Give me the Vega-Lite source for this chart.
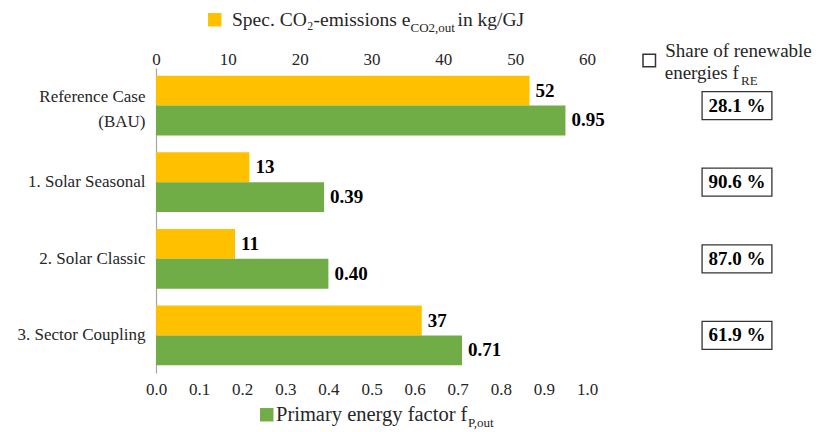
{
  "$schema": "https://vega.github.io/schema/vega-lite/v6.json",
  "width": 431,
  "height": 305,
  "autosize": {"type": "none"},
  "padding": {"left": 156, "top": 68, "right": 232, "bottom": 59},
  "datasets": {
    "bars": [
      {"case": "Reference Case (BAU)", "measure": "CO2", "value": 52},
      {"case": "Reference Case (BAU)", "measure": "PEF", "value": 0.95},
      {"case": "1. Solar Seasonal", "measure": "CO2", "value": 13},
      {"case": "1. Solar Seasonal", "measure": "PEF", "value": 0.39},
      {"case": "2. Solar Classic", "measure": "CO2", "value": 11},
      {"case": "2. Solar Classic", "measure": "PEF", "value": 0.40},
      {"case": "3. Sector Coupling", "measure": "CO2", "value": 37},
      {"case": "3. Sector Coupling", "measure": "PEF", "value": 0.71}
    ],
    "share": [
      {"case": "Reference Case (BAU)", "share": 28.1},
      {"case": "1. Solar Seasonal", "share": 90.6},
      {"case": "2. Solar Classic", "share": 87.0},
      {"case": "3. Sector Coupling", "share": 61.9}
    ]
  },
  "layer": [
    {
      "data": {"name": "bars"},
      "transform": [{"filter": "datum.measure == 'CO2'"}],
      "encoding": {
        "y": {
          "field": "case", "type": "nominal",
          "scale": {"domain": ["Reference Case (BAU)", "1. Solar Seasonal", "2. Solar Classic", "3. Sector Coupling"], "paddingInner": 0.22, "paddingOuter": 0.1},
          "axis": {
            "title": null, "domain": true, "domainColor": "#a6a6a6", "domainWidth": 1.2,
            "ticks": false, "tickSize": 0, "grid": false,
            "labelFont": "Liberation Serif", "labelFontSize": 17, "labelColor": "#262626", "labelPadding": 11,
            "labelLineHeight": 25,
            "labelBaseline": {"condition": {"test": "datum.value == 'Reference Case (BAU)'", "value": "bottom"}, "value": "middle"},
            "labelExpr": "datum.value == 'Reference Case (BAU)' ? ['Reference Case', '(BAU)'] : datum.value"
          }
        },
        "yOffset": {"field": "measure", "type": "nominal", "scale": {"domain": ["CO2", "PEF"], "paddingInner": 0, "paddingOuter": 0}},
        "x": {
          "field": "value", "type": "quantitative",
          "scale": {"domain": [0, 60], "nice": false},
          "axis": {
            "orient": "top", "values": [0, 10, 20, 30, 40, 50, 60], "title": null,
            "domain": false, "ticks": false, "tickSize": 0, "grid": false,
            "labelFont": "Liberation Serif", "labelFontSize": 17, "labelColor": "#262626",
            "labelBaseline": "alphabetic", "labelPadding": 4, "labelFlush": false, "labelOverlap": false
          }
        }
      },
      "layer": [
        {
          "mark": {"type": "bar"},
          "encoding": {
            "color": {
              "datum": "Spec. CO₂-emissions e", "type": "nominal",
              "scale": {"range": ["#FFC000"]},
              "legend": {"orient": "none", "legendX": 49, "legendY": -58, "title": null, "padding": 0,
                "symbolType": "square", "symbolSize": 180, "symbolStrokeWidth": 0, "labelOffset": 7.5,
                "labelFont": "Liberation Serif", "labelFontSize": 19.5, "labelColor": "#262626", "labelLimit": 0}
            }
          }
        },
        {
          "mark": {"type": "text", "align": "left", "baseline": "middle", "dx": 6, "font": "Liberation Serif", "fontSize": 19, "fontWeight": "bold"},
          "encoding": {
            "text": {"field": "value", "type": "quantitative", "format": "d"},
            "color": {
              "datum": "CO2,out", "type": "nominal",
              "scale": {"range": ["#000000"]},
              "legend": {"orient": "none", "legendX": 241.5, "legendY": -47, "title": null, "padding": 0,
                "symbolSize": 0, "symbolOpacity": 0, "symbolStrokeWidth": 0, "labelOffset": 0,
                "labelFont": "Liberation Serif", "labelFontSize": 13, "labelColor": "#262626", "labelLimit": 0}
            }
          }
        }
      ],
      "resolve": {"scale": {"color": "independent"}, "legend": {"color": "independent"}}
    },
    {
      "data": {"name": "bars"},
      "transform": [{"filter": "datum.measure == 'PEF'"}],
      "encoding": {
        "y": {"field": "case", "type": "nominal"},
        "yOffset": {"field": "measure", "type": "nominal"},
        "x": {
          "field": "value", "type": "quantitative",
          "scale": {"domain": [0, 1], "nice": false},
          "axis": {
            "orient": "bottom", "values": [0, 0.1, 0.2, 0.3, 0.4, 0.5, 0.6, 0.7, 0.8, 0.9, 1.0], "format": ".1f", "title": null,
            "domain": false, "ticks": false, "tickSize": 0, "grid": false,
            "labelFont": "Liberation Serif", "labelFontSize": 17, "labelColor": "#262626",
            "labelBaseline": "alphabetic", "labelPadding": 21, "labelFlush": false, "labelOverlap": false
          }
        }
      },
      "layer": [
        {
          "mark": {"type": "bar"},
          "encoding": {
            "color": {
              "datum": "Primary energy factor f", "type": "nominal",
              "scale": {"range": ["#70AD47"]},
              "legend": {"orient": "none", "legendX": 100.5, "legendY": 336.5, "title": null, "padding": 0,
                "symbolType": "square", "symbolSize": 180, "symbolStrokeWidth": 0, "labelOffset": -1,
                "labelFont": "Liberation Serif", "labelFontSize": 20.5, "labelColor": "#262626", "labelLimit": 0}
            }
          }
        },
        {
          "mark": {"type": "text", "align": "left", "baseline": "middle", "dx": 6, "font": "Liberation Serif", "fontSize": 19, "fontWeight": "bold"},
          "encoding": {
            "text": {"field": "value", "type": "quantitative", "format": ".2f"},
            "color": {
              "datum": "P,out", "type": "nominal",
              "scale": {"range": ["#000000"]},
              "legend": {"orient": "none", "legendX": 299, "legendY": 348, "title": null, "padding": 0,
                "symbolSize": 0, "symbolOpacity": 0, "symbolStrokeWidth": 0, "labelOffset": 0,
                "labelFont": "Liberation Serif", "labelFontSize": 13, "labelColor": "#262626", "labelLimit": 0}
            }
          }
        }
      ],
      "resolve": {"scale": {"color": "independent"}, "legend": {"color": "independent"}}
    },
    {
      "data": {"name": "share"},
      "transform": [{"calculate": "format(datum.share, '.1f') + ' %'", "as": "label"}],
      "encoding": {
        "y": {"field": "case", "type": "nominal"}
      },
      "layer": [
        {
          "mark": {"type": "bar", "height": 28, "strokeWidth": 1.3},
          "encoding": {
            "x": {"datum": 1.267, "type": "quantitative", "scale": {"domain": [0, 1], "nice": false}, "axis": null},
            "x2": {"datum": 1.429},
            "color": {
              "datum": "in kg/GJ", "type": "nominal",
              "scale": {"range": ["#ffffff"]},
              "legend": {"orient": "none", "legendX": 282, "legendY": -58, "title": null, "padding": 0,
                "symbolSize": 0, "symbolOpacity": 0, "symbolStrokeWidth": 0, "labelOffset": 0,
                "labelFont": "Liberation Serif", "labelFontSize": 19.5, "labelColor": "#262626", "labelLimit": 0}
            },
            "stroke": {
              "datum": "Share of renewable", "type": "nominal",
              "scale": {"range": ["#333333"]},
              "legend": {"orient": "none", "legendX": 483.75, "legendY": -17, "title": null, "padding": 0,
                "symbolType": "square", "symbolSize": 156, "labelOffset": 6.4,
                "labelFont": "Liberation Serif", "labelFontSize": 19, "labelColor": "#262626", "labelLimit": 0,
                "labelBaseline": "bottom",
                "encode": {
                  "symbols": {"update": {"fill": {"value": "#ffffff"}, "stroke": {"value": "#404040"}, "strokeWidth": {"value": 1}}}
                }
              }
            },
            "strokeDash": {
              "datum": "energies f", "type": "nominal",
              "scale": {"range": [[1, 0]]},
              "legend": {"orient": "none", "legendX": 489.7, "legendY": -4.5, "title": null, "padding": 0,
                "symbolSize": 0, "symbolOpacity": 0, "symbolStrokeWidth": 0, "labelOffset": 0,
                "labelFont": "Liberation Serif", "labelFontSize": 19, "labelColor": "#262626", "labelLimit": 0}
            }
          }
        },
        {
          "mark": {"type": "text", "align": "center", "baseline": "middle", "font": "Liberation Serif", "fontSize": 19, "fontWeight": "bold"},
          "encoding": {
            "x": {"datum": 1.348, "type": "quantitative", "axis": null},
            "text": {"field": "label", "type": "nominal"},
            "color": {
              "datum": "RE", "type": "nominal",
              "scale": {"range": ["#000000"]},
              "legend": {"orient": "none", "legendX": 572, "legendY": 6, "title": null, "padding": 0,
                "symbolSize": 0, "symbolOpacity": 0, "symbolStrokeWidth": 0, "labelOffset": 0,
                "labelFont": "Liberation Serif", "labelFontSize": 13, "labelColor": "#262626", "labelLimit": 0}
            }
          }
        }
      ],
      "resolve": {"scale": {"color": "independent"}, "legend": {"color": "independent"}}
    }
  ],
  "resolve": {
    "scale": {"x": "independent", "color": "independent"},
    "legend": {"color": "independent"}
  },
  "config": {
    "view": {"stroke": null},
    "font": "Liberation Serif"
  }
}
